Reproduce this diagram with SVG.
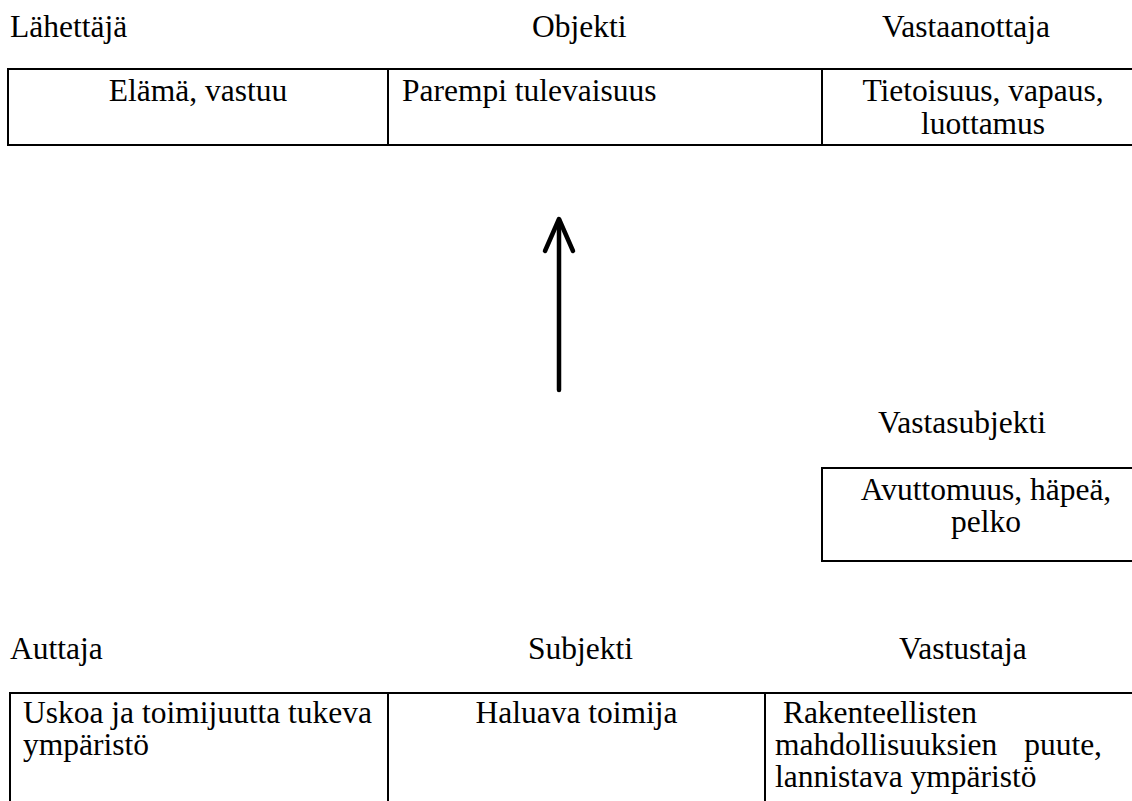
<svg xmlns="http://www.w3.org/2000/svg" width="1132" height="801" viewBox="0 0 1132 801">
<style>
text{font-family:"Liberation Serif",serif;font-size:31.5px;fill:#000}
.c{text-anchor:middle}
.e{text-anchor:end}
.b{fill:none;stroke:#000;stroke-width:2}
.arr{fill:none;stroke:#000;stroke-width:4.5;stroke-linecap:round;stroke-linejoin:round}
.t{font-family:"DejaVu Serif",serif}
</style>
<rect width="1132" height="801" fill="#fff"/>
<g id="label-lahettaja"><text x="10" y="37">Lähettäjä</text></g>
<g id="label-objekti"><text x="532" y="37">Objekti</text></g>
<g id="label-vastaanottaja"><text x="882" y="37">Vastaanottaja</text></g>
<g id="node-elama"><rect class="b" x="8" y="69" width="380" height="76"/><text class="c" x="198" y="101">Elämä, vastuu</text></g>
<g id="node-parempi"><rect class="b" x="388" y="69" width="434" height="76"/><text x="402" y="101">Parempi tulevaisuus</text></g>
<g id="node-tietoisuus"><rect class="b" x="822" y="69" width="330" height="76"/><text class="c" x="983" y="101">Tietoisuus, vapaus,</text><text class="c" x="983" y="134">luottamus</text></g>
<g id="label-vastasubjekti"><text x="878" y="433">Vastasubjekti</text></g>
<g id="node-avuttomuus"><rect class="b" x="822" y="468" width="330" height="93"/><text class="c" x="986" y="500">Avuttomuus, häpeä,</text><text class="c" x="986" y="532">pelko</text></g>
<g id="label-auttaja"><text x="10" y="659">Auttaja</text></g>
<g id="label-subjekti"><text x="528" y="659">Subjekti</text></g>
<g id="label-vastustaja"><text x="899" y="659">Vastustaja</text></g>
<g id="node-uskoa"><rect class="b" x="10" y="693" width="378" height="130"/><text x="23" y="723">Uskoa ja toimijuutta tukeva</text><text x="23" y="755">ympäristö</text></g>
<g id="node-haluava"><rect class="b" x="388" y="693" width="377" height="130"/><text class="c" x="576.5" y="723">Haluava toimija</text></g>
<g id="node-rakenteellisten"><rect class="b" x="765" y="693" width="387" height="130"/><text x="775" y="723" xml:space="preserve"> Rakenteellisten</text><text x="775" y="755">mahdollisuuksien</text><text class="e" x="1102" y="755">puute,</text><text x="775" y="787">lannistava ympäristö</text></g>
<g id="connectors">
<path class="arr" d="M559,390 V220"/>
<path class="arr" d="M545,251 L559,219 L573,251"/>
</g>
</svg>
